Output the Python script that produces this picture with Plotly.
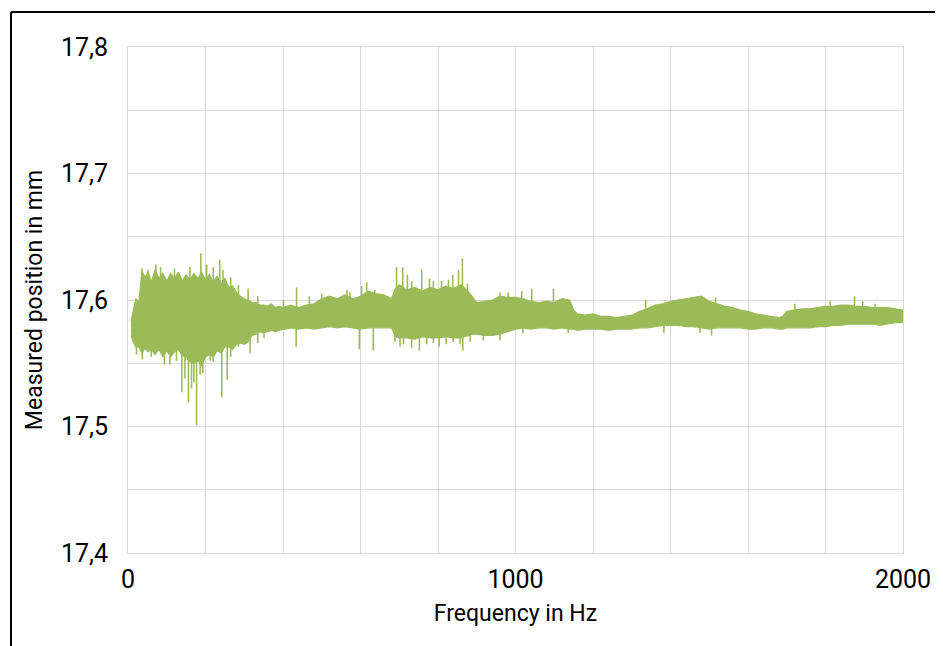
import plotly.graph_objects as go

# ---- envelope of the measured signal ----
freq = [8, 12, 20, 28, 36, 44, 52, 60, 70, 80, 90, 100, 110, 120, 130, 140, 150, 160, 170, 180,
        190, 200, 210, 220, 230, 240, 250, 260, 270, 280, 290, 300, 310, 320, 330, 340, 350, 360,
        370, 380, 390, 400, 420, 440, 460, 480, 500, 520, 540, 560, 580, 600, 620, 640, 660, 680,
        690, 700, 720, 740, 760, 780, 800, 820, 840, 860, 880, 890, 900, 920, 940, 960, 980, 1000,
        1020, 1040, 1060, 1080, 1100, 1120, 1140, 1150, 1160, 1180, 1200, 1220, 1240, 1260, 1280,
        1300, 1320, 1340, 1360, 1380, 1400, 1420, 1440, 1460, 1480, 1500, 1520, 1540, 1560, 1580,
        1600, 1620, 1640, 1660, 1680, 1690, 1700, 1720, 1740, 1760, 1780, 1800, 1820, 1840, 1860,
        1880, 1900, 1920, 1940, 1960, 1980, 2000]

upper = [17.583, 17.590, 17.601, 17.598, 17.623, 17.618, 17.622, 17.614, 17.624, 17.617, 17.621,
         17.615, 17.621, 17.617, 17.622, 17.615, 17.620, 17.616, 17.621, 17.617, 17.622, 17.616,
         17.620, 17.614, 17.619, 17.613, 17.617, 17.610, 17.611, 17.606, 17.603, 17.601, 17.600,
         17.598, 17.598, 17.596, 17.596, 17.595, 17.597, 17.594, 17.595, 17.594, 17.596, 17.594,
         17.596, 17.597, 17.601, 17.603, 17.601, 17.604, 17.601, 17.603, 17.607, 17.605, 17.604,
         17.601, 17.609, 17.612, 17.608, 17.610, 17.607, 17.610, 17.608, 17.611, 17.609, 17.612,
         17.606, 17.602, 17.598, 17.599, 17.600, 17.603, 17.602, 17.602, 17.601, 17.599, 17.598,
         17.599, 17.598, 17.601, 17.600, 17.592, 17.589, 17.588, 17.589, 17.587, 17.587, 17.586,
         17.587, 17.588, 17.591, 17.593, 17.596, 17.597, 17.599, 17.600, 17.601, 17.602, 17.603,
         17.599, 17.597, 17.595, 17.594, 17.592, 17.591, 17.589, 17.588, 17.587, 17.586, 17.587,
         17.591, 17.592, 17.593, 17.593, 17.594, 17.595, 17.595, 17.596, 17.596, 17.595, 17.595,
         17.594, 17.594, 17.594, 17.593, 17.592]

lower = [17.572, 17.568, 17.563, 17.563, 17.558, 17.562, 17.559, 17.561, 17.557, 17.561, 17.555,
         17.560, 17.555, 17.559, 17.561, 17.556, 17.555, 17.551, 17.550, 17.552, 17.548, 17.555,
         17.557, 17.555, 17.560, 17.558, 17.563, 17.563, 17.561, 17.565, 17.566, 17.565, 17.567,
         17.572, 17.573, 17.575, 17.574, 17.575, 17.576, 17.575, 17.576, 17.577, 17.578, 17.577,
         17.578, 17.577, 17.578, 17.579, 17.578, 17.579, 17.578, 17.577, 17.578, 17.578, 17.578,
         17.578, 17.571, 17.570, 17.570, 17.569, 17.571, 17.570, 17.570, 17.571, 17.570, 17.570,
         17.572, 17.573, 17.573, 17.572, 17.572, 17.573, 17.575, 17.577, 17.578, 17.577, 17.578,
         17.578, 17.577, 17.578, 17.577, 17.577, 17.576, 17.577, 17.577, 17.577, 17.576, 17.577,
         17.577, 17.577, 17.578, 17.578, 17.579, 17.580, 17.580, 17.580, 17.579, 17.579, 17.578,
         17.577, 17.578, 17.578, 17.578, 17.578, 17.577, 17.577, 17.578, 17.578, 17.577, 17.577,
         17.578, 17.578, 17.578, 17.578, 17.579, 17.579, 17.580, 17.580, 17.581, 17.581, 17.581,
         17.581, 17.580, 17.581, 17.582, 17.582]

# ---- isolated peaks sticking out of the band ----
peak_up_freq = [36, 52, 72, 84, 120, 160, 188, 203, 220, 237, 245, 265, 285, 310, 335,
                401, 435, 468, 500, 565, 573, 603, 616, 637, 693, 709, 721, 732, 758, 778,
                788, 809, 827, 838, 853, 863, 876, 960, 981,
                1016, 1042, 1098, 1336, 1516, 1721, 1812, 1875, 1896, 1928]
peak_up_val = [17.625, 17.624, 17.628, 17.626, 17.625, 17.626, 17.637, 17.628, 17.626, 17.632,
               17.624, 17.618, 17.612, 17.609, 17.603,
               17.600, 17.610, 17.603, 17.605, 17.608, 17.606, 17.611, 17.614, 17.608, 17.626,
               17.626, 17.620, 17.615, 17.624, 17.617, 17.615, 17.615, 17.616, 17.620, 17.624,
               17.633, 17.613, 17.606, 17.606,
               17.607, 17.609, 17.609, 17.600, 17.602, 17.597, 17.599, 17.603, 17.599, 17.597]

peak_down_freq = [22, 37, 60, 94, 108, 125, 139, 147, 156, 164, 170, 177, 186, 193, 212, 220,
                  242, 256, 265, 285, 315, 335,
                  351, 434, 597, 633, 689, 702, 711, 732, 752, 771, 788, 803, 821, 839, 857,
                  864, 883, 917, 960,
                  1019, 1136, 1383, 1476, 1506]
peak_down_val = [17.557, 17.553, 17.555, 17.549, 17.549, 17.552, 17.527, 17.538, 17.519, 17.530,
                 17.535, 17.501, 17.541, 17.542, 17.552, 17.551, 17.523, 17.537, 17.555, 17.563,
                 17.558, 17.566,
                 17.570, 17.563, 17.561, 17.560, 17.567, 17.563, 17.565, 17.562, 17.560, 17.565,
                 17.566, 17.563, 17.565, 17.567, 17.565, 17.560, 17.567, 17.568, 17.568,
                 17.574, 17.574, 17.574, 17.574, 17.572]
peak_base = 17.585

x_title = "Frequency in Hz"
y_title = "Measured position in mm"
x_ticks = [0, 1000, 2000]
x_ticktext = ["0", "1000", "2000"]
y_ticks = [17.4, 17.5, 17.6, 17.7, 17.8]
y_ticktext = ["17,4", "17,5", "17,6", "17,7", "17,8"]

GREEN = "#9BBB59"
GRID = "#d9d9d9"
FONT = "Roboto, Liberation Sans, sans-serif"

# page body has an 8 px margin; the figure is placed so the plot area sits at
# x 128..903, y 47..553 of the window
W, H = 935, 638
L, T = 120, 39
PW, PH = 775, 506

fig = go.Figure()
fig.add_trace(go.Scatter(
    x=freq + freq[::-1], y=upper + lower[::-1],
    fill="toself", fillcolor=GREEN, mode="lines",
    line=dict(color=GREEN, width=1.2), hoverinfo="skip", showlegend=False))

sx, sy = [], []
for f, v in zip(peak_up_freq + peak_down_freq, peak_up_val + peak_down_val):
    sx += [f, f, None]
    sy += [peak_base, v, None]
fig.add_trace(go.Scatter(x=sx, y=sy, mode="lines",
                         line=dict(color=GREEN, width=1.6), hoverinfo="skip", showlegend=False))

fig.update_layout(
    width=W, height=H,
    margin=dict(l=L, r=W - L - PW, t=T, b=H - T - PH),
    plot_bgcolor="white", paper_bgcolor="white",
    font=dict(family=FONT, size=25, color="#000000"),
    xaxis=dict(range=[0, 2000], tickvals=x_ticks, ticktext=x_ticktext, automargin=False,
               showgrid=True, gridcolor=GRID, gridwidth=1,
               minor=dict(dtick=200, showgrid=True, gridcolor=GRID, gridwidth=1),
               zeroline=False, showline=True, linecolor=GRID, mirror=True,
               ticks="", ticklabelstandoff=4,
               title=dict(text=x_title, font=dict(size=23), standoff=11)),
    yaxis=dict(range=[17.4, 17.8], tickvals=y_ticks, ticktext=y_ticktext, automargin=False,
               showgrid=True, gridcolor=GRID, gridwidth=1,
               minor=dict(dtick=0.05, showgrid=True, gridcolor=GRID, gridwidth=1),
               zeroline=False, showline=True, linecolor=GRID, mirror=True,
               ticks="", ticklabelstandoff=14,
               title=dict(text=y_title, font=dict(size=23), standoff=11)),
    shapes=[
        dict(type="line", xref="paper", yref="paper",
             x0=(3 - L) / PW, x1=(W + 10 - L) / PW,
             y0=(T + PH - 4) / PH, y1=(T + PH - 4) / PH,
             line=dict(color="black", width=2)),
        dict(type="line", xref="paper", yref="paper",
             x0=(3 - L) / PW, x1=(3 - L) / PW,
             y0=(T + PH - 4) / PH, y1=(T + PH - H - 10) / PH,
             line=dict(color="black", width=2)),
    ],
)

fig.write_html("out.html")
